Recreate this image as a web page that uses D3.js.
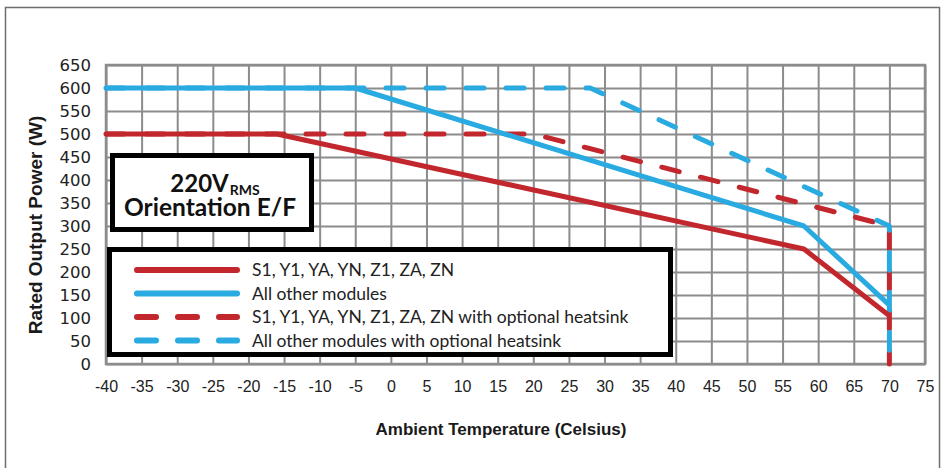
<!DOCTYPE html>
<html>
<head>
<meta charset="utf-8">
<script src="https://cdn.jsdelivr.net/npm/d3@7"></script>
<style>
  body { margin: 0; background: #fff; }
  svg { display: block; }
</style>
</head>
<body>
<div id="chart"></div>
<script>
// DATA
const X_TICKS = d3.range(-40, 80, 5);
const Y_TICKS = d3.range(0, 700, 50);

const RED_SOLID  = [[-40, 500], [-16, 500], [58, 250], [70, 105]];
const BLUE_SOLID = [[-40, 600], [-5, 600], [58, 300], [70, 128]];
const RED_DASH   = [[-40, 500], [20, 500], [70, 300], [70, 0]];
const BLUE_DASH  = [[-40, 600], [28, 600], [70, 300], [70, 0]];

const LEGEND = [
    {label: "S1, Y1, YA, YN, Z1, ZA, ZN", color: "#c1272d", dash: false},
    {label: "All other modules", color: "#29abe2", dash: false},
    {label: "S1, Y1, YA, YN, Z1, ZA, ZN with optional heatsink", color: "#c1272d", dash: true},
    {label: "All other modules with optional heatsink", color: "#29abe2", dash: true},
];

const RED = "#c1272d";
const BLUE = "#29abe2";
const GRID = "#8c8c8c";

const W = 944, H = 468;
const PLOT = {left: 106, right: 925, top: 65, bottom: 364};

const svg = d3.select("#chart")
    .append("svg")
        .attr("width", W)
        .attr("height", H);

// outer frame
svg.append("rect")
    .attr("x", 5.5).attr("y", 7.5)
    .attr("width", 934).attr("height", 470)
    .attr("fill", "none")
    .attr("stroke", "#6e6e6e")
    .attr("stroke-width", 1.5);

const x = d3.scaleLinear().domain([-40, 75]).range([PLOT.left, PLOT.right]);
const y = d3.scaleLinear().domain([0, 650]).range([PLOT.bottom, PLOT.top]);

// GRID
svg.append("g")
    .attr("transform", `translate(0, ${PLOT.bottom})`)
    .call(d3.axisBottom(x).tickValues(X_TICKS).tickSize(-(PLOT.bottom - PLOT.top)).tickFormat(""))
    .call(g => g.select(".domain").remove())
    .call(g => g.selectAll("line").attr("stroke", GRID).attr("stroke-width", 2));

svg.append("g")
    .attr("transform", `translate(${PLOT.left}, 0)`)
    .call(d3.axisLeft(y).tickValues(Y_TICKS).tickSize(-(PLOT.right - PLOT.left)).tickFormat(""))
    .call(g => g.select(".domain").remove())
    .call(g => g.selectAll("line").attr("stroke", GRID).attr("stroke-width", 2));

svg.append("rect")
    .attr("x", PLOT.left).attr("y", PLOT.top)
    .attr("width", PLOT.right - PLOT.left).attr("height", PLOT.bottom - PLOT.top)
    .attr("fill", "none")
    .attr("stroke", GRID)
    .attr("stroke-width", 2.5);

// TICK LABELS (plain hyphen for negatives, like the original)
svg.append("g")
    .attr("transform", `translate(0, ${PLOT.bottom})`)
    .call(d3.axisBottom(x).tickValues(X_TICKS).tickSize(0).tickPadding(17).tickFormat(d => String(d)))
    .call(g => g.select(".domain").remove())
    .call(g => g.selectAll("text")
        .attr("font-family", "Liberation Sans, Arial, sans-serif")
        .attr("font-size", 16)
        .attr("fill", "#222"));

svg.append("g")
    .attr("transform", `translate(${PLOT.left}, 0)`)
    .call(d3.axisLeft(y).tickValues(Y_TICKS).tickSize(0).tickPadding(15).tickFormat(d => String(d)))
    .call(g => g.select(".domain").remove())
    .call(g => g.selectAll("text")
        .attr("font-family", "DejaVu Sans, sans-serif")
        .attr("font-size", 16.5)
        .attr("fill", "#222"));

// AXIS TITLES
svg.append("text")
    .attr("x", 501).attr("y", 435)
    .attr("text-anchor", "middle")
    .attr("font-family", "Liberation Sans, Arial, sans-serif")
    .attr("font-weight", "bold")
    .attr("font-size", 17)
    .attr("fill", "#1a1a1a")
    .text("Ambient Temperature (Celsius)");

svg.append("text")
    .attr("transform", "translate(42, 225) rotate(-90)")
    .attr("text-anchor", "middle")
    .attr("font-family", "Liberation Sans, Arial, sans-serif")
    .attr("font-weight", "bold")
    .attr("font-size", 19)
    .attr("fill", "#1a1a1a")
    .text("Rated Output Power (W)");

// LINES
const line = d3.line().x(d => x(d[0])).y(d => y(d[1]));

function drawLine(data, color, dashed) {
    svg.append("path")
        .datum(data)
        .attr("d", line)
        .attr("fill", "none")
        .attr("stroke", color)
        .attr("stroke-width", 5)
        .attr("stroke-linejoin", "round")
        .attr("stroke-linecap", dashed ? "round" : "butt")
        .attr("stroke-dasharray", dashed ? "18,22" : null);
}

drawLine(RED_DASH, RED, true);
drawLine(BLUE_DASH, BLUE, true);
drawLine(BLUE_SOLID, BLUE, false);
drawLine(RED_SOLID, RED, false);

// TEXT BOX
svg.append("rect")
    .attr("x", 112.5).attr("y", 155.5)
    .attr("width", 199).attr("height", 74)
    .attr("fill", "#fff")
    .attr("stroke", "#000")
    .attr("stroke-width", 5);

const t1 = svg.append("text")
    .attr("x", 215).attr("y", 192)
    .attr("text-anchor", "middle")
    .attr("font-family", "Lato, sans-serif")
    .attr("font-weight", "bold")
    .attr("fill", "#111");
t1.append("tspan").attr("font-size", 24).text("220V");
t1.append("tspan").attr("font-size", 14).attr("dx", 1).attr("dy", 3).text("RMS");

svg.append("text")
    .attr("x", 210).attr("y", 216)
    .attr("text-anchor", "middle")
    .attr("font-family", "Lato, sans-serif")
    .attr("font-weight", "bold")
    .attr("font-size", 24.5)
    .attr("fill", "#111")
    .text("Orientation E/F");

// LEGEND
svg.append("rect")
    .attr("x", 109.5).attr("y", 249.5)
    .attr("width", 561).attr("height", 105)
    .attr("fill", "#fff")
    .attr("stroke", "#000")
    .attr("stroke-width", 5);

const rows = svg.selectAll(".legend-row")
    .data(LEGEND)
    .enter()
    .append("g")
        .attr("class", "legend-row")
        .attr("transform", (d, i) => `translate(0, ${270 + i * 23.5})`);

rows.append("line")
    .attr("x1", 137).attr("x2", 237)
    .attr("stroke", d => d.color)
    .attr("stroke-width", 6)
    .attr("stroke-linecap", "round")
    .attr("stroke-dasharray", d => d.dash ? "19,22" : null);

rows.append("text")
    .attr("x", 252).attr("y", 6)
    .attr("font-family", "Lato, sans-serif")
    .attr("font-size", 17.5)
    .attr("fill", "#222")
    .text(d => d.label);
</script>
</body>
</html>
